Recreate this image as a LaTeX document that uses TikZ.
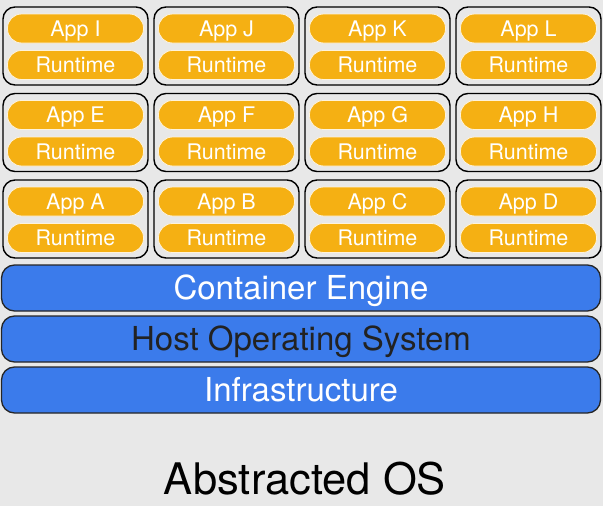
\documentclass[tikz,border=0pt]{standalone}
\usepackage{fontspec}
\setmainfont{TeX Gyre Heros}
\definecolor{bgc}{HTML}{E8E8E8}
\definecolor{pillc}{HTML}{F5B013}
\definecolor{barc}{HTML}{3B7BEB}
\definecolor{darktxt}{HTML}{222222}
\begin{document}
\begin{tikzpicture}[x=1pt,y=-1pt,
  outerbox/.style={draw=black,line width=1.4pt,rounded corners=12pt,fill=bgc},
  pill/.style={draw=white!85!pillc,line width=0.8pt,fill=pillc,rounded corners=14pt,minimum width=136pt,minimum height=29pt,text=white,font=\fontsize{21.5}{21.5}\selectfont,inner sep=0pt,text height=15.5pt,text depth=0pt},
  bar/.style={draw=black!85,line width=1.3pt,fill=barc,rounded corners=13pt,minimum width=599pt,minimum height=46pt,inner sep=0pt,font=\fontsize{33}{33}\selectfont,text height=23.8pt,text depth=0pt}]
\fill[bgc] (0,0) rectangle (603,506);
\useasboundingbox (0,0) rectangle (603,506);
\foreach \r/\ty/\la/\lb/\lc/\ld in {1/7/I/J/K/L, 2/93.5/E/F/G/H, 3/180/A/B/C/D}{
  \foreach \c/\xl/\lab in {1/3/\la, 2/154/\lb, 3/305/\lc, 4/456/\ld}{
    \draw[outerbox] (\xl,\ty) rectangle ++(145,78);
    \node[pill] (app\r\c) at (\xl+72.5,\ty+21.5) {App \lab};
    \node[pill] (rt\r\c) at (\xl+72.5,\ty+58) {Runtime};
  }
}
\node[bar,text=white] (ce) at (301,288) {Container Engine};
\node[bar,text=darktxt] (host) at (301,339) {Host Operating System};
\node[bar,text=white] (infra) at (301,390) {Infrastructure};
\node[text=black,font=\fontsize{43.5}{43.5}\selectfont,inner sep=0pt,text height=31.3pt,text depth=0pt] (title) at (305,479) {Abstracted OS};
\end{tikzpicture}
\end{document}
